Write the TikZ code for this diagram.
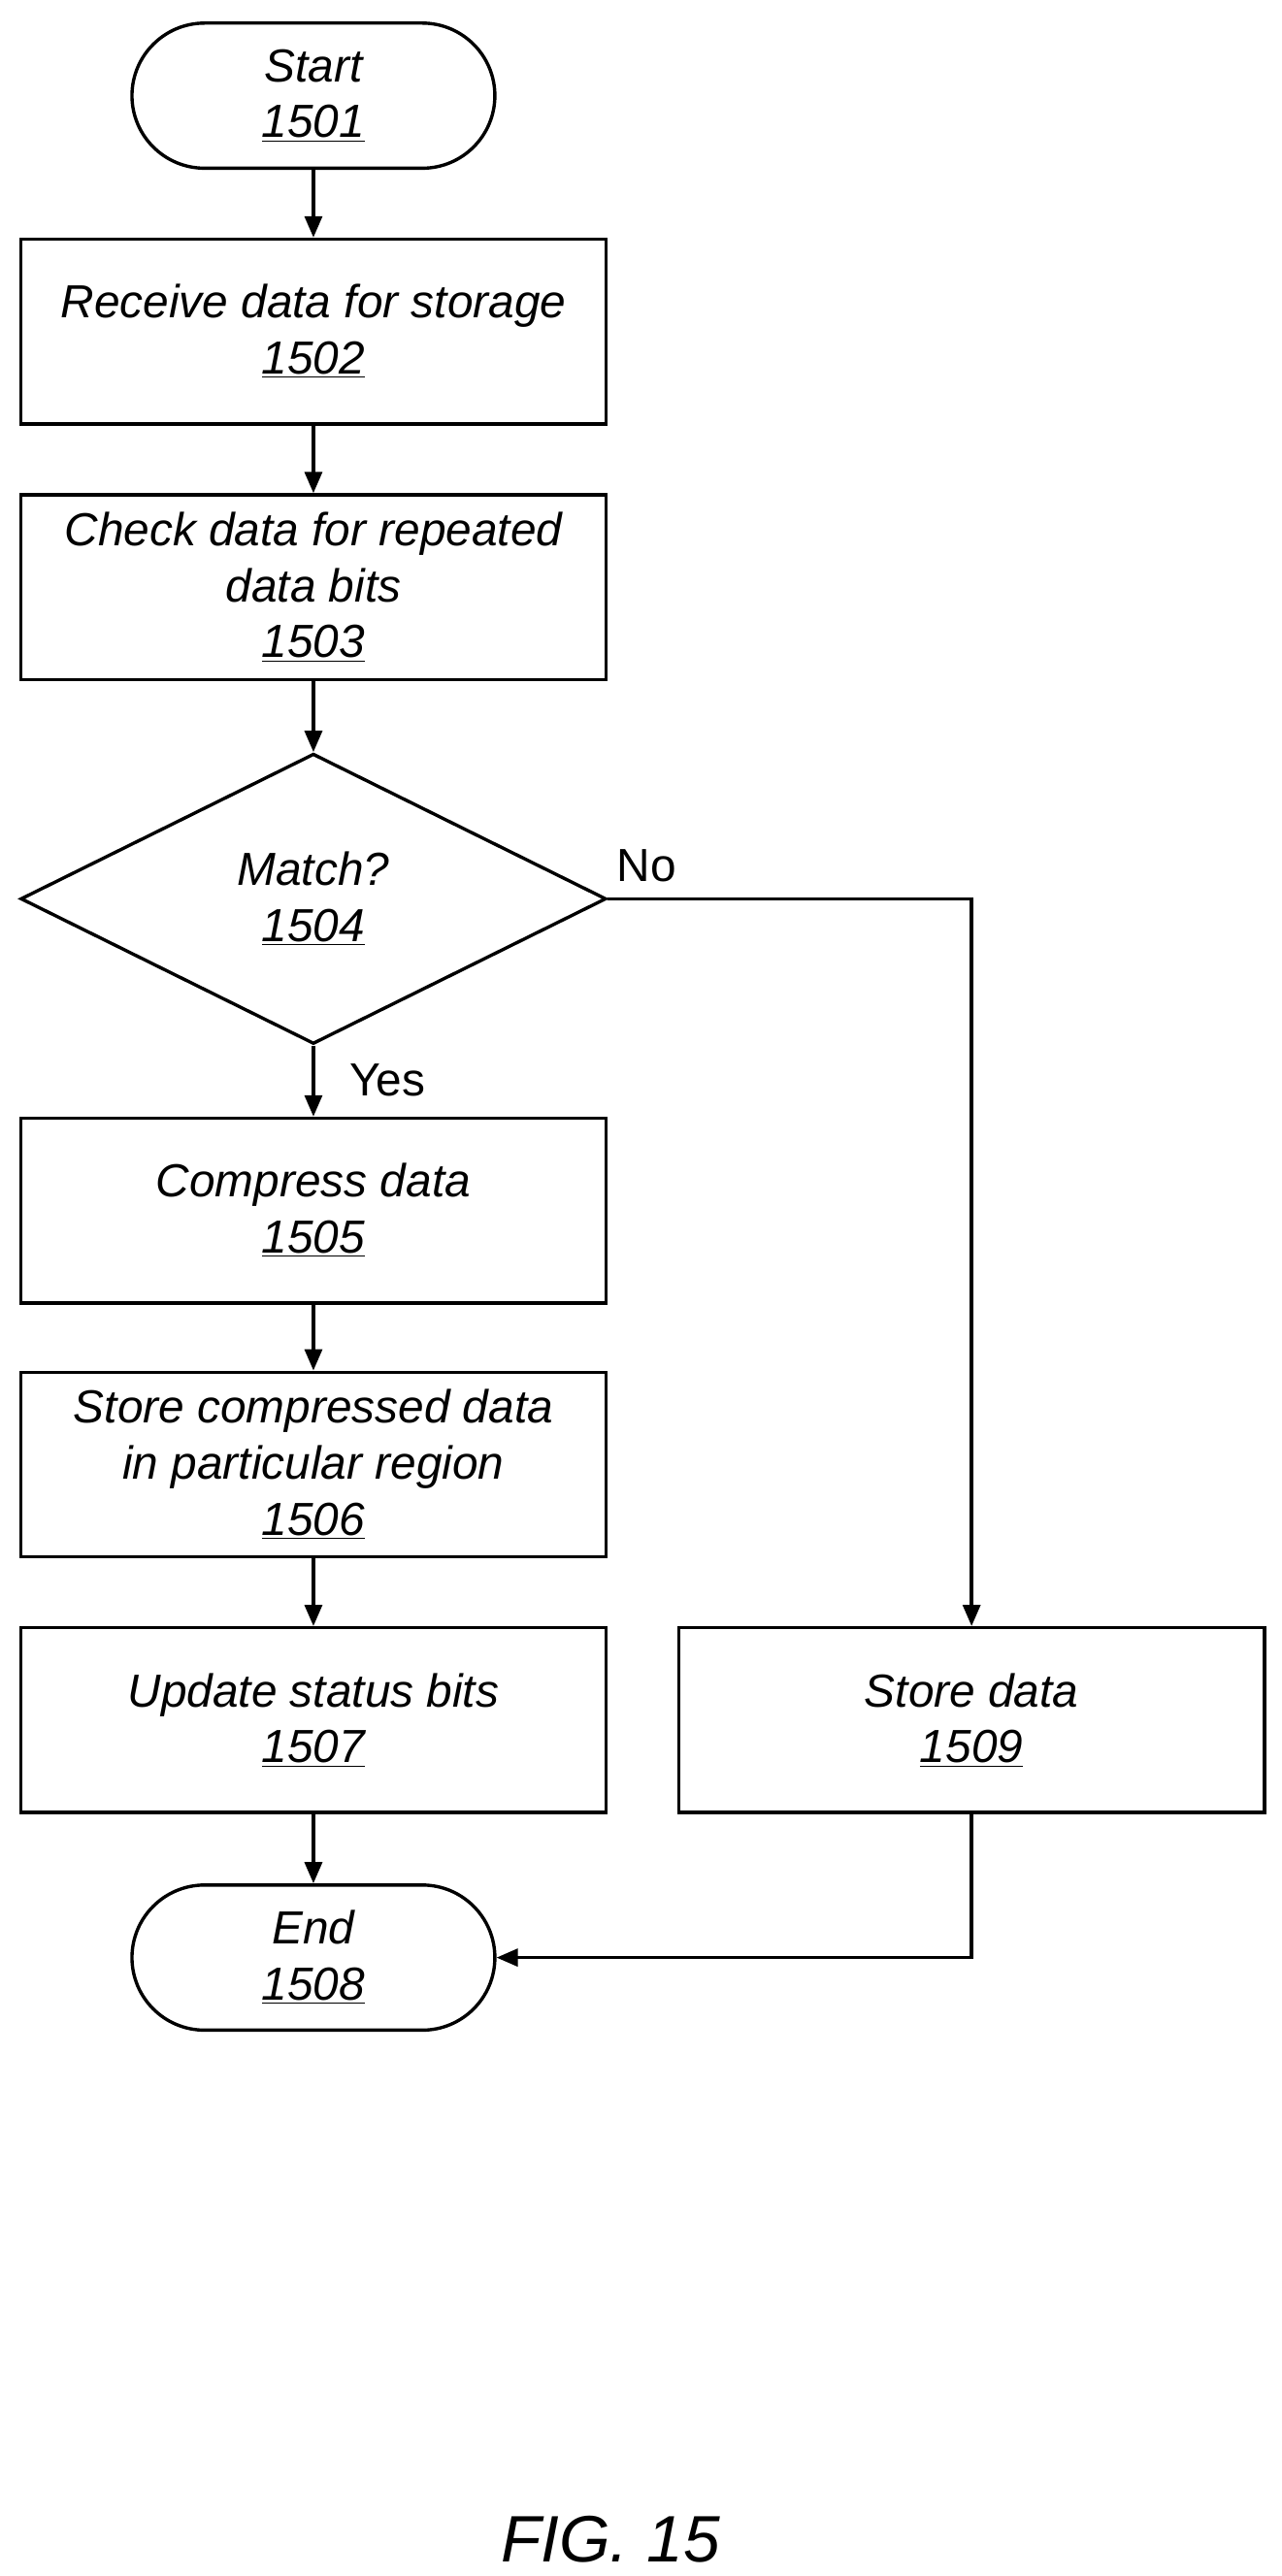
\documentclass[tikz,border=0pt]{standalone}
\usepackage{fontspec}
\setmainfont{Liberation Sans}
\usetikzlibrary{shapes.geometric,arrows.meta}
\begin{document}
\begin{tikzpicture}[x=0.03cm,y=-0.03cm,line width=1.7pt,
    every node/.style={font=\fontsize{24}{29}\selectfont},
    step box/.style={draw,rectangle,minimum width=355*0.03cm,minimum height=112*0.03cm,align=center,font=\fontsize{24}{29}\selectfont\itshape},
    term box/.style={draw,rectangle,rounded corners=44*0.03cm,minimum width=220*0.03cm,minimum height=88*0.03cm,align=center,font=\fontsize{24}{29}\selectfont\itshape},
    match box/.style={draw,diamond,aspect=2.02,inner sep=0pt,minimum width=355*0.03cm,minimum height=176*0.03cm,align=center,font=\fontsize{24}{29}\selectfont\itshape},
    flow/.style={-{Triangle[length=11pt,width=9pt]}}]
  \useasboundingbox (0,0) rectangle (777,1562);
  \node[term box] (start) at (190,58) {Start\\\underline{1501}};
  \node[step box] (recv) at (190,201) {Receive data for storage\\\underline{1502}};
  \node[step box] (check) at (190,356) {Check data for repeated\\data bits\\\underline{1503}};
  \node[match box] (match) at (190,545) {Match?\\\underline{1504}};
  \node[step box] (comp) at (190,734) {Compress data\\\underline{1505}};
  \node[step box] (storec) at (190,888) {Store compressed data\\in particular region\\\underline{1506}};
  \node[step box] (upd) at (190,1043) {Update status bits\\\underline{1507}};
  \node[term box] (end) at (190,1187) {End\\\underline{1508}};
  \node[step box] (stored) at (589,1043) {Store data\\\underline{1509}};
  \node (no) at (392,525) {No};
  \node (yes) at (235,655) {Yes};
  \node[font=\fontsize{34}{40}\selectfont\itshape] (fig) at (370,1540) {FIG. 15};
  \draw[flow] (start) -- (recv);
  \draw[flow] (recv) -- (check);
  \draw[flow] (check) -- (match);
  \draw[flow] (match) -- (comp);
  \draw[flow] (comp) -- (storec);
  \draw[flow] (storec) -- (upd);
  \draw[flow] (upd) -- (end);
  \draw[flow] (match.east) -| (stored.north);
  \draw[flow] (stored.south) |- (end.east);
\end{tikzpicture}
\end{document}
